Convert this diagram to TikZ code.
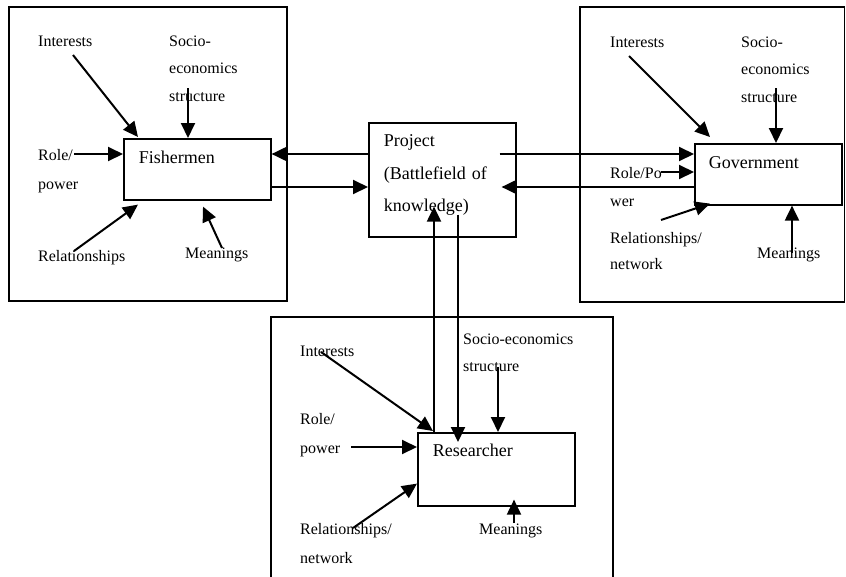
\documentclass[tikz,border=0pt]{standalone}
\usepackage{fontspec}
\setmainfont{Liberation Serif}
\usetikzlibrary{arrows.meta,calc}
\begin{document}
\begin{tikzpicture}[x=1pt,y=-1pt,
  arr/.style={line width=2pt,-{Triangle[length=15pt,width=14pt]}},
  frame/.style={draw,line width=1.6pt},
  actor/.style={draw,line width=1.6pt,anchor=north west,inner ysep=0pt,inner xsep=15pt,
    align=left,font=\fontsize{18pt}{32.5pt}\selectfont},
  lbl/.style={anchor=base west,inner sep=0pt,align=left,font=\fontsize{16pt}{28pt}\selectfont}]
\useasboundingbox (0,0) rectangle (846,576);
% outer frames
\draw[frame] (9,7) rectangle (287,301);
\draw[frame] (580,7) rectangle (844.5,302);
\draw[frame] (271,580) -- (271,317) -- (613,317) -- (613,580);
% actor boxes
\node[actor,text width=117pt,text height=25pt,text depth=36pt] (fish) at (123,138) {Fishermen};
\node[actor,text width=117pt,text height=24pt,text depth=90pt] (proj) at (368,122) {Project\\(Battlefield of\\knowledge)};
\node[actor,inner xsep=14pt,text width=119pt,text height=25pt,text depth=36pt] (gov) at (694,143) {Government};
\node[actor,text width=127pt,text height=24pt,text depth=49pt] (res) at (417,432) {Researcher};
% labels: fishermen (multi-line labels placed by their last baseline)
\node[lbl] (fI) at (38,46) {Interests};
\node[lbl] (fS) at (169,101) {Socio-\\[-0.5pt]economics\\[-0.5pt]structure};
\node[lbl] (fR) at (38,189) {Role/\\[1pt]power};
\node[lbl] (fL) at (38,261) {Relationships};
\node[lbl] (fM) at (185,258) {Meanings};
% labels: government
\node[lbl] (gI) at (610,47) {Interests};
\node[lbl] (gS) at (741,102) {Socio-\\[-0.5pt]economics\\[-0.5pt]structure};
\node[lbl] (gR) at (610,206) {Role/Po\\wer};
\node[lbl] (gL) at (610,269) {Relationships/\\[-2pt]network};
\node[lbl] (gM) at (757,258) {Meanings};
% labels: researcher
\node[lbl] (rI) at (300,356) {Interests};
\node[lbl] (rR) at (300,453) {Role/\\[1pt]power};
\node[lbl] (rL) at (300,563) {Relationships/\\[1pt]network};
\node[lbl] (rS) at (463,371) {Socio-economics\\[-1pt]structure};
\node[lbl] (rM) at (479,534) {Meanings};
% arrow start points
\coordinate (fIs) at (73,55);
\coordinate (fSs) at (188,88);
\coordinate (fRs) at (74,154);
\coordinate (fLs) at (74,251);
\coordinate (fMs) at (222,248);
\coordinate (gIs) at (629,56);
\coordinate (gSs) at (776,88);
\coordinate (gRs) at (661,172);
\coordinate (gLs) at (661,220);
\coordinate (gMs) at (792,253);
\coordinate (rIs) at (321,352);
\coordinate (rRs) at (351,447);
\coordinate (rLs) at (353,528);
\coordinate (rSs) at (498,367);
\coordinate (rMs) at (514,523);
\coordinate (h1) at (0,154);
\coordinate (h2) at (0,187);
\coordinate (v1) at (434,0);
\coordinate (v2) at (458,0);
% fishermen influences
\draw[arr] (fIs) -- ($(fish.north west)+(15,-1)$);
\draw[arr] (fSs) -- (fish.north -| fSs);
\draw[arr] (fRs) -- (fish.west |- fRs);
\draw[arr] (fLs) -- ($(fish.south west)+(15,4)$);
\draw[arr] (fMs) -- ($(fish.south west)+(80,6)$);
% government influences
\draw[arr] (gIs) -- ($(gov.north west)+(16,-6)$);
\draw[arr] (gSs) -- (gov.north -| gSs);
\draw[arr] (gRs) -- (gov.west |- gRs);
\draw[arr] (gLs) -- ($(gov.south west)+(16,-2)$);
\draw[arr] (gMs) -- (gov.south -| gMs);
% researcher influences
\draw[arr] (rIs) -- ($(res.north west)+(16,-1)$);
\draw[arr] (rRs) -- (res.west |- rRs);
\draw[arr] (rLs) -- ($(res.south west)+(0,-23)$);
\draw[arr] (rSs) -- (res.north -| rSs);
\draw[arr] (rMs) -- ($(res.south -| rMs)+(0,-7)$);
% project links
\draw[arr] (proj.west |- h1) -- (fish.east |- h1);
\draw[arr] (fish.east |- h2) -- (proj.west |- h2);
\draw[arr] ($(proj.east |- h1)+(-17,0)$) -- (gov.west |- h1);
\draw[arr] (gov.west |- h2) -- ($(proj.east |- h2)+(-15,0)$);
\draw[arr] (res.north -| v1) -- ($(proj.south -| v1)+(0,-31)$);
\draw[arr] ($(proj.south -| v2)+(0,-23)$) -- ($(res.north -| v2)+(0,10)$);
\end{tikzpicture}
\end{document}
